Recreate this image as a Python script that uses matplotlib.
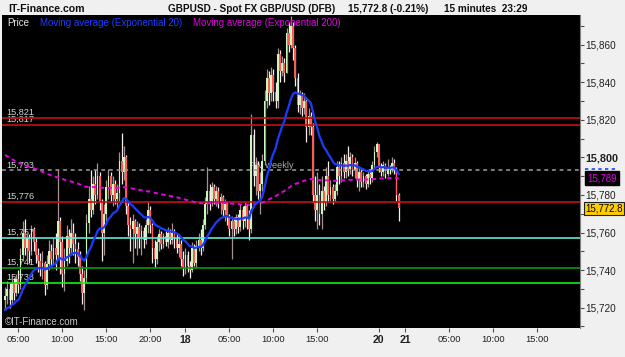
import matplotlib
matplotlib.use('Agg')
import matplotlib.pyplot as plt
from matplotlib.lines import Line2D
import numpy as np

plt.rcParams['font.family'] = ['Liberation Sans', 'DejaVu Sans']

# GBPUSD spot, 15 minute bars, quoted in pips (15,772.8 = 1.57728)
first_open = 15724
closes = [15726, 15730, 15724, 15733, 15728, 15735, 15732, 15748, 15760, 15752,
          15757, 15750, 15762, 15755, 15748, 15745, 15741, 15744, 15732, 15743,
          15750, 15746, 15752, 15748, 15766, 15755, 15738, 15745, 15758, 15752,
          15760, 15754, 15751, 15747, 15738, 15728, 15736, 15765, 15778, 15772,
          15786, 15780, 15790, 15776, 15760, 15770, 15784, 15790, 15780, 15786,
          15778, 15781, 15798, 15792, 15800, 15774, 15764, 15762, 15766, 15759,
          15763, 15757, 15761, 15756, 15764, 15772, 15764, 15752, 15746, 15755,
          15759, 15754, 15758, 15755, 15760, 15756, 15760, 15757, 15752, 15754,
          15746, 15741, 15748, 15742, 15740, 15752, 15744, 15753, 15756, 15752,
          15764, 15775, 15782, 15777, 15784, 15778, 15782, 15776, 15779, 15772,
          15776, 15768, 15762, 15766, 15762, 15768, 15763, 15772, 15766, 15774,
          15768, 15762, 15812, 15790, 15796, 15782, 15786, 15798, 15830, 15842,
          15834, 15844, 15835, 15830, 15855, 15846, 15850, 15845, 15866, 15860,
          15870, 15858, 15842, 15828, 15833, 15826, 15830, 15816, 15822, 15816,
          15780, 15772, 15780, 15770, 15782, 15776, 15790, 15780, 15784, 15778,
          15782, 15795, 15790, 15797, 15792, 15798, 15794, 15800, 15793, 15797,
          15788, 15792, 15787, 15790, 15786, 15791, 15789, 15796, 15803, 15807,
          15795, 15792, 15796, 15791, 15795, 15793, 15797, 15794, 15780, 15772.8]
highs = [15731, 15734, 15733, 15737, 15736, 15738, 15740, 15752, 15766, 15767,
         15760, 15759, 15764, 15763, 15757, 15752, 15749, 15750, 15745, 15748,
         15756, 15754, 15757, 15760, 15793, 15768, 15758, 15752, 15764, 15762,
         15767, 15765, 15760, 15755, 15750, 15742, 15740, 15770, 15785, 15793,
         15790, 15793, 15797, 15792, 15778, 15775, 15788, 15794, 15792, 15790,
         15788, 15786, 15803, 15813, 15806, 15801, 15777, 15768, 15770, 15767,
         15766, 15765, 15764, 15763, 15767, 15777, 15774, 15765, 15756, 15758,
         15762, 15761, 15760, 15761, 15763, 15762, 15765, 15762, 15760, 15758,
         15756, 15750, 15752, 15750, 15745, 15755, 15754, 15756, 15760, 15762,
         15767, 15779, 15795, 15786, 15787, 15786, 15785, 15784, 15781, 15780,
         15778, 15777, 15770, 15769, 15768, 15770, 15770, 15775, 15774, 15776,
         15775, 15772, 15823, 15815, 15800, 15798, 15792, 15802, 15836, 15847,
         15846, 15848, 15847, 15840, 15858, 15857, 15854, 15853, 15869, 15872,
         15875, 15872, 15860, 15845, 15836, 15835, 15834, 15832, 15826, 15824,
         15818, 15790, 15792, 15786, 15790, 15785, 15795, 15798, 15788, 15786,
         15786, 15798, 15798, 15800, 15802, 15802, 15806, 15803, 15802, 15800,
         15798, 15795, 15794, 15792, 15791, 15793, 15794, 15798, 15806, 15808,
         15800, 15797, 15798, 15797, 15799, 15796, 15800, 15799, 15795, 15781]
lows = [15719, 15722, 15720, 15722, 15724, 15726, 15728, 15730, 15745, 15748,
        15745, 15744, 15748, 15750, 15744, 15739, 15737, 15735, 15727, 15730,
        15740, 15742, 15743, 15740, 15746, 15738, 15731, 15729, 15742, 15744,
        15748, 15748, 15744, 15742, 15734, 15722, 15719, 15733, 15760, 15768,
        15770, 15775, 15778, 15772, 15745, 15748, 15766, 15778, 15776, 15774,
        15775, 15772, 15776, 15786, 15788, 15770, 15758, 15750, 15744, 15752,
        15748, 15752, 15748, 15752, 15754, 15760, 15760, 15744, 15741, 15743,
        15750, 15751, 15752, 15753, 15752, 15754, 15754, 15752, 15749, 15747,
        15742, 15737, 15738, 15739, 15736, 15739, 15742, 15741, 15750, 15748,
        15750, 15762, 15770, 15772, 15774, 15775, 15774, 15773, 15770, 15769,
        15766, 15764, 15758, 15746, 15758, 15759, 15760, 15761, 15762, 15763,
        15762, 15756, 15760, 15785, 15780, 15778, 15770, 15782, 15796, 15826,
        15828, 15830, 15830, 15826, 15826, 15840, 15843, 15840, 15845, 15856,
        15858, 15852, 15838, 15824, 15823, 15822, 15823, 15808, 15812, 15812,
        15776, 15766, 15762, 15764, 15762, 15772, 15774, 15776, 15777, 15775,
        15776, 15780, 15786, 15787, 15789, 15789, 15790, 15791, 15790, 15789,
        15784, 15782, 15784, 15784, 15783, 15784, 15786, 15787, 15794, 15800,
        15792, 15790, 15790, 15789, 15790, 15791, 15792, 15791, 15777, 15766]

# chart hours since 17th 00:00, weekend removed
friday_session = (3.5, 170)   # first bar 03:30 on the 17th
sunday_session = (46.0, 10)   # Sunday open placed right after Friday close
bar_minutes = 15

levels = [15821, 15817, 15793, 15776, 15757, 15741, 15733]
level_text = ['15,821', '15,817', '15,793', '15,776', '15,757', '15,741', '15,733']
level_colors = ['#c41010', '#c41010', '#a0a0a0', '#c41010', '#5fe8d8', '#0a9a0a', '#14f014']

xticks = [5, 10, 15, 20, 24, 29, 34, 39, 46, 49, 54, 59, 64]
xlabels = ['05:00', '10:00', '15:00', '20:00', '18', '05:00', '10:00', '15:00',
           '20', '21', '05:00', '10:00', '15:00']
day_labels = ['18', '20', '21']
yticks = [15720, 15740, 15760, 15780, 15800, 15820, 15840, 15860]


def ema(vals, n, seed):
    a = 2.0 / (n + 1)
    out = []
    e = seed
    for v in vals:
        e = e + a * (v - e)
        out.append(e)
    return np.array(out)


W, H = 625, 357


def fx(px):
    return px / W


def fy(py):
    return 1 - py / H


def main():
    step = bar_minutes / 60.0
    t = np.concatenate([friday_session[0] + step * np.arange(friday_session[1]),
                        sunday_session[0] + step * np.arange(sunday_session[1])])
    c = np.array(closes, dtype=float)
    o = np.array([first_open] + closes[:-1], dtype=float)
    hi = np.array(highs, dtype=float)
    lo = np.array(lows, dtype=float)
    up = c >= o

    fig = plt.figure(figsize=(W / 100, H / 100), dpi=100)
    fig.patch.set_facecolor('#f0f0f0')
    ax = fig.add_axes([fx(2), fy(328), fx(580) - fx(2), fy(15) - fy(328)])
    ax.set_facecolor('black')
    ax.set_xlim(3.1465, 3.1465 + 578 / 8.794)
    ax.set_ylim(15709.2, 15875.7)

    # candles
    wick_cols = np.where(up, '#a89090', '#f8ecec')
    ax.vlines(t, lo, hi, colors=wick_cols, lw=0.9, zorder=2)
    body = np.maximum(np.abs(c - o), 0.8)
    ax.bar(t, body, bottom=np.minimum(o, c), width=0.2,
           color=np.where(up, '#c8f8bc', '#ff5a5a'), lw=0, zorder=3)

    # support / resistance levels
    for lv, txt, col in zip(levels, level_text, level_colors):
        if lv == 15793:
            ax.axhline(lv, color=col, lw=1.1, ls=(0, (2.5, 2.5)), zorder=4)
        else:
            ax.axhline(lv, color=col, lw=1.2, zorder=4)
        ax.text(0.007, lv + 0.6, txt, transform=ax.get_yaxis_transform(),
                color='#d4d4d4', fontsize=6.6, va='bottom', ha='left', zorder=1)
    ax.text(31.3, 15793.3, 'Piv weekly', color='#a8a8a8', fontsize=6.6,
            va='bottom', ha='left', zorder=1)

    e20 = ema(c, 20, 15718)
    e200 = ema(c, 200, 15802)
    ax.plot(t, e200, color='#e600e6', lw=1.4, ls=(0, (2.2, 1.8)), zorder=5)
    ax.plot(t, e20, color='#1a3cff', lw=1.6, zorder=6)

    # axes
    for s in ['top', 'left', 'bottom']:
        ax.spines[s].set_visible(False)
    ax.spines['right'].set_color('#808080')
    ax.yaxis.tick_right()
    ax.set_yticks(yticks)
    ax.set_yticklabels(['{:,}'.format(v) for v in yticks])
    ax.set_yticks(np.arange(15710, 15880, 10), minor=True)
    ax.tick_params(axis='y', which='both', direction='out', length=3, width=0.8,
                   color='#505050', labelsize=7.2, labelcolor='#202020', pad=1)
    for lab in ax.get_yticklabels():
        if lab.get_text() == '15,800':
            lab.set_fontweight('bold')
            lab.set_fontsize(7.8)
    ax.set_xticks(xticks)
    ax.set_xticklabels(xlabels)
    ax.tick_params(axis='x', direction='out', length=3, width=0.8, color='#505050',
                   labelsize=6.7, labelcolor='#202020', pad=2)
    for lab in ax.get_xticklabels():
        if lab.get_text() in day_labels:
            lab.set_fontweight('bold')
            lab.set_fontsize(7.6)

    # legend strip and watermark
    fig.text(fx(7), fy(22.5), 'Price', color='#e8e8e8', fontsize=7, va='center', zorder=8)
    fig.text(fx(40), fy(22.5), 'Moving average (Exponential 20)', color='#1e3cff',
             fontsize=7, va='center', zorder=8)
    fig.text(fx(193), fy(22.5), 'Moving average (Exponential 200)', color='#e000e0',
             fontsize=7, va='center', zorder=8)
    fig.text(fx(5), fy(322), '\u00a9IT-Finance.com', color='#c8c8c8', fontsize=7,
             va='center', zorder=8)

    # title line
    fig.text(fx(8), fy(8.5), 'IT-Finance.com', fontsize=7.6, weight='bold',
             va='center', color='#101010')
    fig.text(fx(168), fy(8.5), 'GBPUSD - Spot FX GBP/USD (DFB)', fontsize=7.2,
             weight='bold', va='center', color='#101010')
    fig.text(fx(348), fy(8.5), '15,772.8 (-0.21%)', fontsize=7.2, weight='bold',
             va='center', color='#101010')
    fig.text(fx(444), fy(8.5), '15 minutes  23:29', fontsize=7.2, weight='bold',
             va='center', color='#101010')

    # price boxes on the right scale
    ytr = ax.get_yaxis_transform()
    ax.text(1.012, e200[-1], '{:,.0f}'.format(e200[-1]), transform=ytr,
            color='#e000e0', fontsize=7, va='center', ha='left', clip_on=False,
            bbox=dict(boxstyle='square,pad=0.2', fc='black', ec='black'))
    ax.text(1.009, c[-1], '{:,.1f}'.format(c[-1]), transform=ytr,
            color='black', fontsize=7, va='center', ha='left', clip_on=False,
            bbox=dict(boxstyle='square,pad=0.15', fc='#ffcc00', ec='#202020', lw=0.8))
    fig.add_artist(Line2D([fx(585), fx(615)], [fy(169), fy(169)], color='#2040ff',
                          lw=1.2, ls=(0, (2, 2))))

    fig.savefig('out.png', dpi=100, facecolor=fig.get_facecolor())


if __name__ == '__main__':
    main()
